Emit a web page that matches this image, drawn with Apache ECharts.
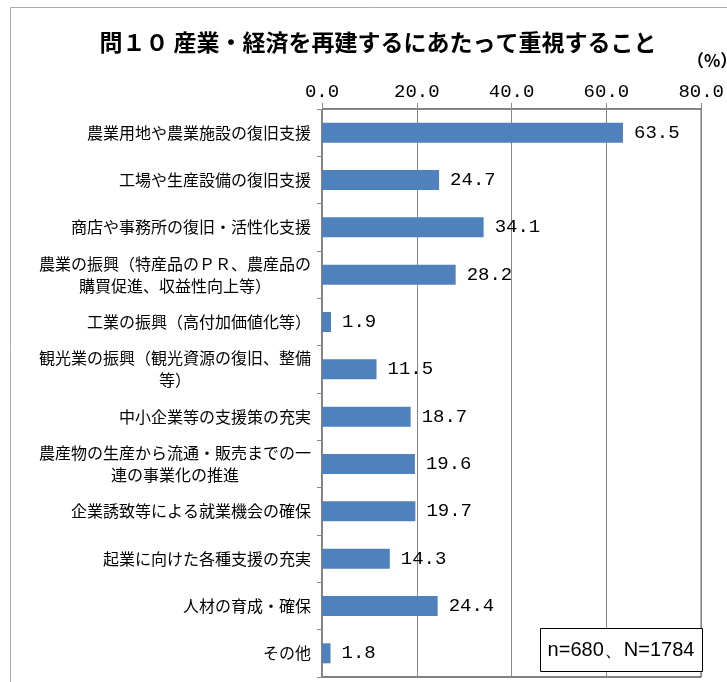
<!DOCTYPE html>
<html>
<head>
<meta charset="utf-8">
<script src="https://cdn.jsdelivr.net/npm/echarts@6/dist/echarts.min.js"></script>
<style>
  html, body { margin: 0; padding: 0; background: #fff; }
  #chartArea { width: 727px; height: 682px; }
</style>
</head>
<body>
<div id="chartArea"></div>
<script>
var categories = [
    '農業用地や農業施設の復旧支援',
    '工場や生産設備の復旧支援',
    '商店や事務所の復旧・活性化支援',
    '農業の振興（特産品のＰＲ、農産品の購買促進、収益性向上等）',
    '工業の振興（高付加価値化等）',
    '観光業の振興（観光資源の復旧、整備等）',
    '中小企業等の支援策の充実',
    '農産物の生産から流通・販売までの一連の事業化の推進',
    '企業誘致等による就業機会の確保',
    '起業に向けた各種支援の充実',
    '人材の育成・確保',
    'その他'
];
var values = [63.5, 24.7, 34.1, 28.2, 1.9, 11.5, 18.7, 19.6, 19.7, 14.3, 24.4, 1.8];
var axisTicks = [0, 20, 40, 60, 80];

var titleText = '問１０ 産業・経済を再建するにあたって重視すること';
var noteText = 'n=680、N=1784';

var myChart = echarts.init(document.getElementById('chartArea'));

// split long category names into 17-char lines, centred under each other
function wrapLabel(s) {
    var lines = [];
    for (var i = 0; i < s.length; i += 17) {
        lines.push('{c|' + s.slice(i, i + 17) + '}');
    }
    return lines.join('\n');
}

var option = {
    backgroundColor: '#fff',
    animation: false,
    grid: {
        left: 322,
        right: 19,
        top: 109,
        bottom: 5,
        show: true,
        borderColor: '#000',
        borderWidth: 1
    },
    xAxis: {
        type: 'value',
        position: 'top',
        min: axisTicks[0],
        max: axisTicks[axisTicks.length - 1],
        interval: 20,
        axisLine: { show: true, lineStyle: { color: '#888' } },
        axisTick: { show: true, length: 6, lineStyle: { color: '#888' } },
        splitLine: { show: true, lineStyle: { color: '#888', width: 1 } },
        axisLabel: {
            margin: 8,
            color: '#000',
            fontSize: 19,
            fontFamily: 'Liberation Mono',
            formatter: function(v) { return v.toFixed(1); }
        }
    },
    yAxis: {
        type: 'category',
        inverse: true,
        data: categories,
        axisLine: { show: true, lineStyle: { color: '#888' } },
        axisTick: { show: true, length: 5, lineStyle: { color: '#888' } },
        axisLabel: {
            margin: 11,
            color: '#000',
            formatter: wrapLabel,
            rich: {
                c: {
                    align: 'center',
                    fontSize: 16,
                    lineHeight: 22,
                    color: '#000',
                    fontFamily: 'Noto Sans CJK JP'
                }
            }
        }
    },
    series: [{
        type: 'bar',
        data: values,
        barWidth: 20,
        itemStyle: { color: '#4F81BD' },
        label: {
            show: true,
            position: 'right',
            distance: 11,
            color: '#000',
            fontSize: 19,
            fontFamily: 'Liberation Mono',
            formatter: function(p) { return p.value.toFixed(1); }
        }
    }],
    graphic: [
        {
            type: 'rect',
            shape: { x: 10.5, y: 7.5, width: 800, height: 800 },
            style: { fill: 'none', stroke: '#aaa', lineWidth: 1 },
            z: -10
        },
        {
            type: 'text',
            x: 378,
            y: 42,
            style: {
                text: titleText,
                align: 'center',
                verticalAlign: 'middle',
                fontSize: 23,
                fontWeight: 'bold',
                fontFamily: 'Noto Sans CJK JP',
                fill: '#000'
            }
        },
        {
            type: 'text',
            x: 687,
            y: 61,
            style: {
                text: '（%）',
                align: 'left',
                verticalAlign: 'middle',
                fontSize: 17,
                fontWeight: 'bold',
                fontFamily: 'Noto Sans CJK JP',
                fill: '#000'
            }
        },
        {
            type: 'rect',
            shape: { x: 540.5, y: 628.5, width: 162, height: 43 },
            style: { fill: '#fff', stroke: '#000', lineWidth: 1 },
            z: 10
        },
        {
            type: 'text',
            x: 621,
            y: 650,
            z: 11,
            style: {
                text: noteText,
                align: 'center',
                verticalAlign: 'middle',
                fontSize: 20,
                fontFamily: 'Liberation Sans',
                fill: '#000'
            }
        }
    ]
};

myChart.setOption(option);
</script>
</body>
</html>
